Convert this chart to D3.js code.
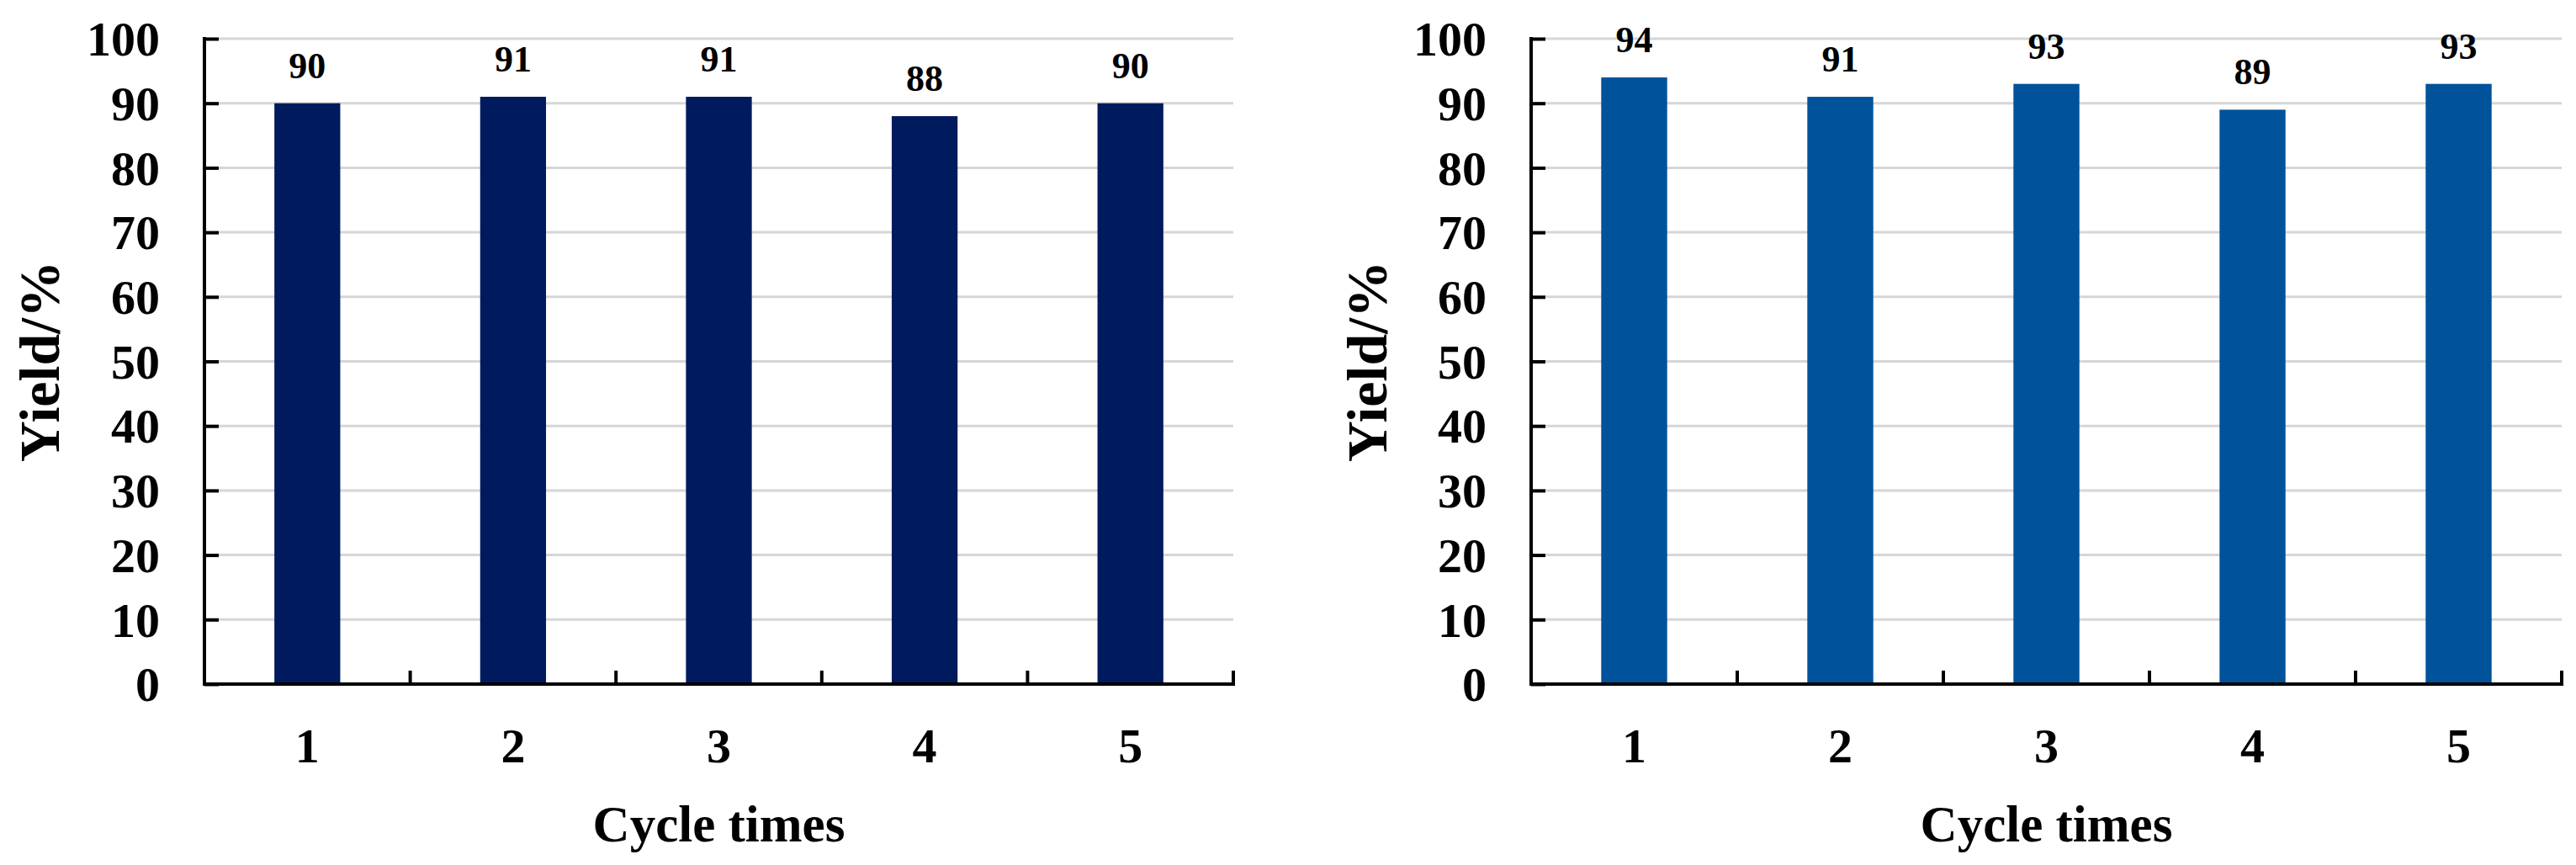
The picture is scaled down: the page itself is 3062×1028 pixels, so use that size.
<!DOCTYPE html>
<html>
<head>
<meta charset="utf-8">
<script src="https://cdn.jsdelivr.net/npm/d3@7"></script>
<style>
  html, body { margin: 0; padding: 0; background: #fff; }
  svg { display: block; }
  text { font-family: "Liberation Serif", "Times New Roman", serif; font-weight: bold; fill: #000; }
</style>
</head>
<body>
<svg id="chart" width="3062" height="1028"></svg>
<script>
const cycles = ["1", "2", "3", "4", "5"];
const yieldLeft = [90, 91, 91, 88, 90];
const yieldRight = [94, 91, 93, 89, 93];
const yTicks = [0, 10, 20, 30, 40, 50, 60, 70, 80, 90, 100];
const xTitle = "Cycle times";
const yTitle = "Yield/%";

const svg = d3.select("#chart");

const panels = [
  { x0: 243, x1: 1466, values: yieldLeft, color: "#001a5e", yTitleX: 70 },
  { x0: 1820, x1: 3045, values: yieldRight, color: "#00529b", yTitleX: 1648 }
];
const yTop = 46, yBot = 813;

panels.forEach(p => {
  const g = svg.append("g");
  const x = d3.scaleBand().domain(cycles).range([p.x0, p.x1]).paddingInner(0.68).paddingOuter(0.34);
  const xb = d3.scaleBand().domain(cycles).range([p.x0, p.x1]);
  const y = d3.scaleLinear().domain([0, 100]).range([yBot, yTop]);

  // gridlines
  g.append("g").selectAll("line").data(yTicks.filter(t => t > 0)).join("line")
    .attr("x1", p.x0).attr("x2", p.x1)
    .attr("y1", d => y(d)).attr("y2", d => y(d))
    .attr("stroke", "#d6d6d6").attr("stroke-width", 3);

  // bars
  g.append("g").selectAll("rect").data(p.values).join("rect")
    .attr("x", (d, i) => x(cycles[i]))
    .attr("width", x.bandwidth())
    .attr("y", d => y(d))
    .attr("height", d => yBot - y(d))
    .attr("fill", p.color);

  // value labels
  g.append("g").selectAll("text").data(p.values).join("text")
    .attr("x", (d, i) => x(cycles[i]) + x.bandwidth() / 2)
    .attr("y", d => y(d) - 30)
    .attr("text-anchor", "middle")
    .attr("font-size", 44)
    .text(d => d);

  // y axis
  const yAxis = d3.axisLeft(y).tickValues(yTicks).tickSize(-17).tickPadding(70).tickFormat(d3.format("d"));
  const ya = g.append("g").attr("transform", `translate(${p.x0},0)`).call(yAxis);
  ya.select(".domain").attr("stroke", "#000").attr("stroke-width", 4).attr("d", `M0,${yTop - 2}V${yBot}`);
  ya.selectAll(".tick line").attr("stroke", "#000").attr("stroke-width", 4);
  ya.selectAll(".tick text").attr("font-size", 58).attr("font-family", null).attr("dy", "0.34em").attr("x", -53).attr("text-anchor", "end");

  // x axis: boundary ticks pointing up
  const boundaries = cycles.map(c => xb(c)).concat([p.x1]).slice(1);
  const xa = g.append("g");
  xa.append("line").attr("x1", p.x0 - 2).attr("x2", p.x1 + 2).attr("y1", yBot).attr("y2", yBot)
    .attr("stroke", "#000").attr("stroke-width", 4);
  xa.selectAll("line.bt").data(boundaries).join("line").attr("class", "bt")
    .attr("x1", d => d).attr("x2", d => d).attr("y1", yBot).attr("y2", yBot - 16)
    .attr("stroke", "#000").attr("stroke-width", 4);
  xa.selectAll("text").data(cycles).join("text")
    .attr("x", d => xb(d) + xb.bandwidth() / 2)
    .attr("y", 906)
    .attr("text-anchor", "middle")
    .attr("font-size", 58)
    .text(d => d);

  // axis titles
  g.append("text").attr("x", (p.x0 + p.x1) / 2).attr("y", 1000)
    .attr("text-anchor", "middle").attr("font-size", 61).text(xTitle);
  g.append("text").attr("transform", `translate(${p.yTitleX},${(yTop + yBot) / 2}) rotate(-90)`)
    .attr("text-anchor", "middle").attr("font-size", 68).text(yTitle);
});
</script>
</body>
</html>
